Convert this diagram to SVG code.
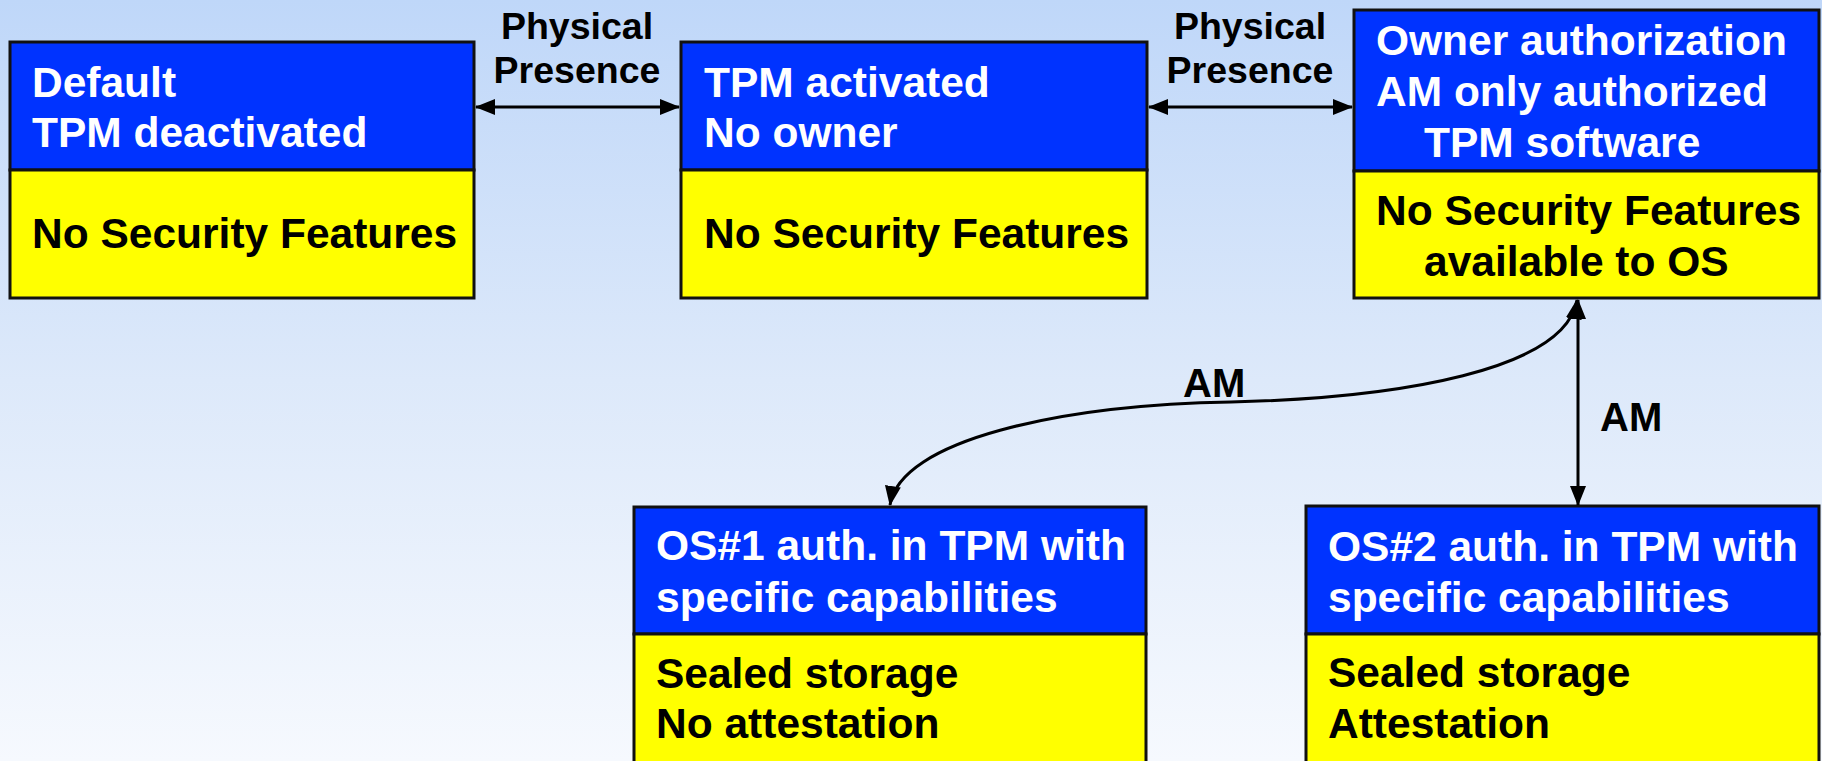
<svg xmlns="http://www.w3.org/2000/svg" width="1822" height="761" viewBox="0 0 1822 761">
<defs>
<linearGradient id="bg" x1="0" y1="0" x2="0" y2="1">
<stop offset="0" stop-color="#bfd7f9"/>
<stop offset="0.5" stop-color="#dde9fa"/>
<stop offset="1" stop-color="#f6f9fe"/>
</linearGradient>
<marker id="ah" viewBox="0 0 20 16" refX="19" refY="8" markerWidth="20" markerHeight="16" markerUnits="userSpaceOnUse" orient="auto-start-reverse">
<path d="M0,0 L20,8 L0,16 Z" fill="#000"/>
</marker>
<style>
.top{fill:#0033ff;stroke:#111;stroke-width:3}
.bot{fill:#ffff00;stroke:#111;stroke-width:3}
.wt{fill:#fff;font-family:"Liberation Sans",Arial,sans-serif;font-weight:bold;font-size:42.5px}
.bt{fill:#000;font-family:"Liberation Sans",Arial,sans-serif;font-weight:bold;font-size:42.5px}
.lbl{fill:#000;font-family:"Liberation Sans",Arial,sans-serif;font-weight:bold;font-size:37.5px;text-anchor:middle}
.am{fill:#000;font-family:"Liberation Sans",Arial,sans-serif;font-weight:bold;font-size:40px}
.con{fill:none;stroke:#000;stroke-width:3}
</style>
</defs>
<rect width="1822" height="761" fill="url(#bg)"/>

<g id="n1">
<rect class="top" x="10" y="42" width="464" height="128"/>
<rect class="bot" x="10" y="170" width="464" height="128"/>
<text class="wt" x="32" y="97">Default</text>
<text class="wt" x="32" y="147">TPM deactivated</text>
<text class="bt" x="32" y="248">No Security Features</text>
</g>

<g id="n2">
<rect class="top" x="681" y="42" width="466" height="128"/>
<rect class="bot" x="681" y="170" width="466" height="128"/>
<text class="wt" x="704" y="97">TPM activated</text>
<text class="wt" x="704" y="147">No owner</text>
<text class="bt" x="704" y="248">No Security Features</text>
</g>

<g id="n3">
<rect class="top" x="1354" y="10" width="465" height="161"/>
<rect class="bot" x="1354" y="171" width="465" height="127"/>
<text class="wt" x="1376" y="55">Owner authorization</text>
<text class="wt" x="1376" y="106">AM only authorized</text>
<text class="wt" x="1424" y="157">TPM software</text>
<text class="bt" x="1376" y="225">No Security Features</text>
<text class="bt" x="1424" y="276">available to OS</text>
</g>

<g id="n4">
<rect class="top" x="634" y="507" width="512" height="127"/>
<rect class="bot" x="634" y="634" width="512" height="140"/>
<text class="wt" x="656" y="560">OS#1 auth. in TPM with</text>
<text class="wt" x="656" y="612">specific capabilities</text>
<text class="bt" x="656" y="688">Sealed storage</text>
<text class="bt" x="656" y="738">No attestation</text>
</g>

<g id="n5">
<rect class="top" x="1306" y="506" width="513" height="128"/>
<rect class="bot" x="1306" y="634" width="513" height="140"/>
<text class="wt" x="1328" y="561">OS#2 auth. in TPM with</text>
<text class="wt" x="1328" y="612">specific capabilities</text>
<text class="bt" x="1328" y="687">Sealed storage</text>
<text class="bt" x="1328" y="738">Attestation</text>
</g>

<g id="connectors">
<line class="con" x1="476" y1="107" x2="679" y2="107" marker-start="url(#ah)" marker-end="url(#ah)"/>
<line class="con" x1="1149" y1="107" x2="1352" y2="107" marker-start="url(#ah)" marker-end="url(#ah)"/>
<line class="con" x1="1578" y1="300" x2="1578" y2="505" marker-start="url(#ah)" marker-end="url(#ah)"/>
<path class="con" d="M1577,300 C1565,370 1400,398 1231,402 C1060,405 900,440 890,505" marker-start="url(#ah)" marker-end="url(#ah)"/>
<text class="lbl" x="577" y="39">Physical</text>
<text class="lbl" x="577" y="83">Presence</text>
<text class="lbl" x="1250" y="39">Physical</text>
<text class="lbl" x="1250" y="83">Presence</text>
<text class="am" x="1183" y="397">AM</text>
<text class="am" x="1600" y="431">AM</text>
</g>
</svg>
